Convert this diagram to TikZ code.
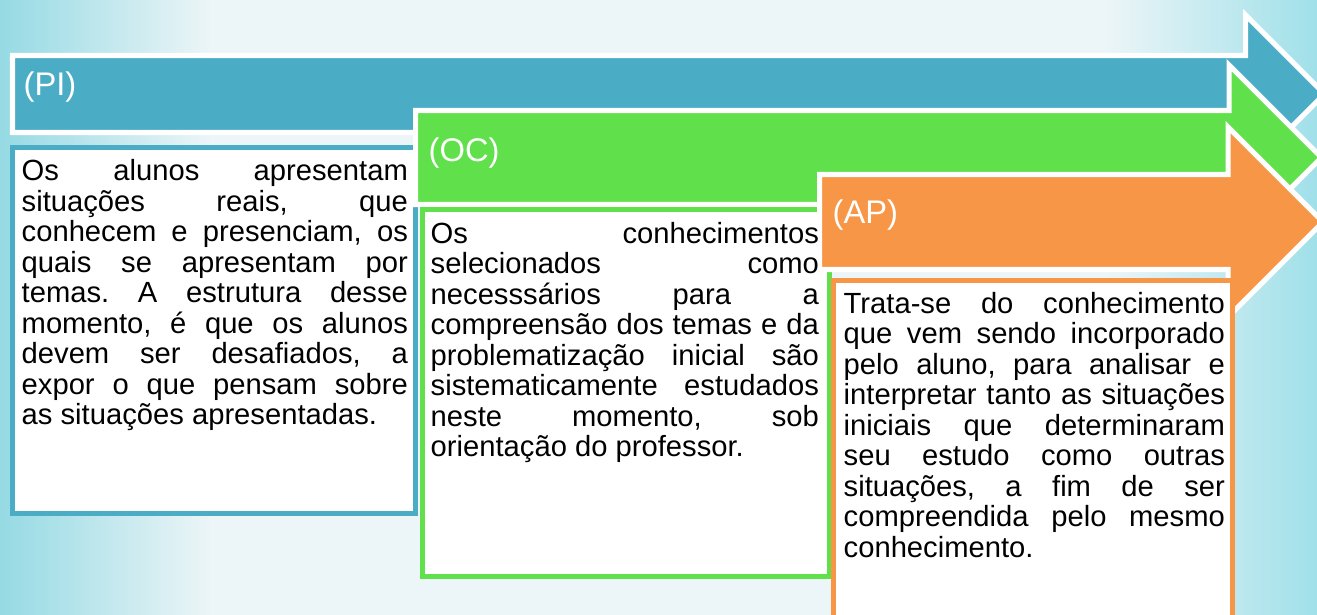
\documentclass[tikz,border=0pt]{standalone}
\usepackage{fontspec}
\setmainfont{Liberation Sans}
\frenchspacing

\definecolor{piBlue}{RGB}{75,172,198}
\definecolor{ocGreen}{RGB}{96,224,74}
\definecolor{apOrange}{RGB}{247,150,70}
\definecolor{bgLeft}{RGB}{150,218,228}
\definecolor{bgMid}{RGB}{236,245,247}
\definecolor{bgRight}{RGB}{160,224,233}
\pgfdeclarehorizontalshading{bgShade}{100bp}{color(0bp)=(bgLeft);
  color(25bp)=(bgLeft); color(33bp)=(bgMid); color(67bp)=(bgMid);
  color(75bp)=(bgRight); color(100bp)=(bgRight)}

\begin{document}
\begin{tikzpicture}
[x=0.01cm,y=-0.01cm,%
  arrowDecorate/.style={draw=white,line width=0.05cm},%
  boxDecorate/.style={fill=white,line width=0.05cm},%
  titleDecorate/.style={anchor=base west,inner sep=0pt,text=white,
    font=\fontsize{9.3}{10}\selectfont},%
  textDecorate/.style={anchor=north west,inner sep=0pt,align=justify,
    font=\fontsize{8.3}{8.68}\selectfont,
    execute at begin node={\spaceskip=0.278em plus 0.8em minus 0.1em\strut}}]
\useasboundingbox (0,0) rectangle (1317,615);
\clip (0,0) rectangle (1317,615);
%% background
\shade[shading=bgShade] (0,0) rectangle (1317,615);
%% arrows and boxes, back to front
\foreach \col/\xl/\yt/\yb/\xh/\yh/\bl/\bt/\br/\bb in {
  piBlue/12.5/55.5/132.5/1245.5/15/12.5/147.5/415/513,
  ocGreen/415.5/110.5/204.5/1229/65/422.5/209.5/829/576,
  apOrange/819.5/174.5/269.5/1228/127/833.5/280.5/1232.5/660}
{
  \draw[arrowDecorate,fill=\col] (\xl,\yt) -- (\xh,\yt) -- (\xh,\yh)
    -- ({\xh+(\yt+\yb)/2-\yh},{(\yt+\yb)/2}) -- (\xh,{\yt+\yb-\yh})
    -- (\xh,\yb) -- (\xl,\yb) -- cycle;
  \draw[boxDecorate,draw=\col] (\bl,\bt) rectangle (\br,\bb);
}
%% titles
\node (piTitle) at (23,95) [titleDecorate] {(PI)};
\node (ocTitle) at (428,162) [titleDecorate] {(OC)};
\node (apTitle) at (832,223) [titleDecorate] {(AP)};
%% texts
\node (piText) at (21,158.5) [textDecorate,text width=3.86cm] {%
  Os alunos apresentam\linebreak
  situações reais, que\linebreak
  conhecem e presenciam, os\linebreak
  quais se apresentam por\linebreak
  temas. A estrutura desse\linebreak
  momento, é que os alunos\linebreak
  devem ser desafiados, a\linebreak
  expor o que pensam sobre\linebreak
  as situações apresentadas.};
\node (ocText) at (430,221) [textDecorate,text width=3.88cm] {%
  Os conhecimentos\linebreak
  selecionados como\linebreak
  necesssários para a\linebreak
  compreensão dos temas e da\linebreak
  problematização inicial são\linebreak
  sistematicamente estudados\linebreak
  neste momento, sob\linebreak
  orientação do professor.};
\node (apText) at (843,291) [textDecorate,text width=3.81cm] {%
  Trata-se do conhecimento\linebreak
  que vem sendo incorporado\linebreak
  pelo aluno, para analisar e\linebreak
  interpretar tanto as situações\linebreak
  iniciais que determinaram\linebreak
  seu estudo como outras\linebreak
  situações, a fim de ser\linebreak
  compreendida pelo mesmo\linebreak
  conhecimento.};
\end{tikzpicture}
\end{document}
